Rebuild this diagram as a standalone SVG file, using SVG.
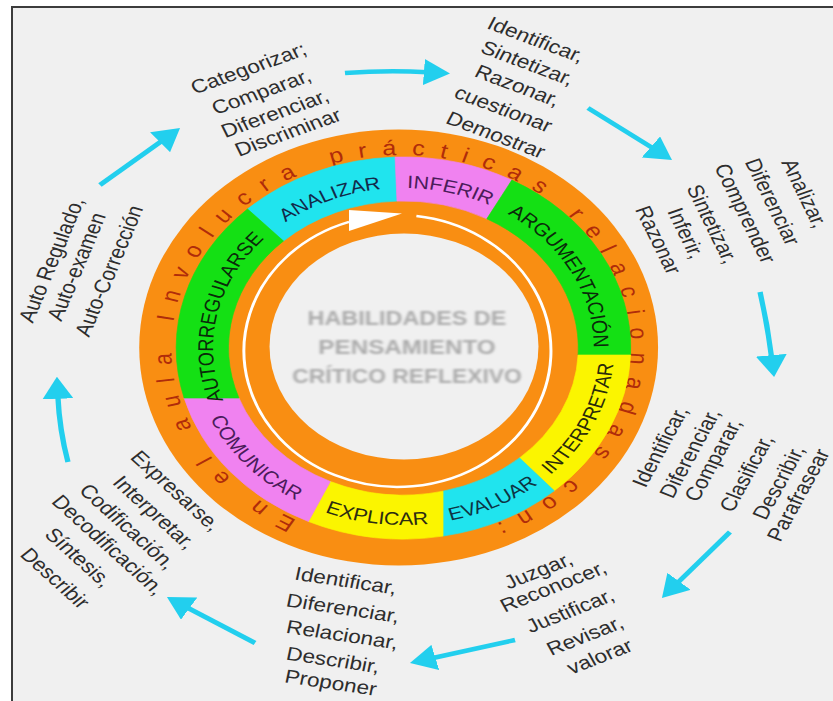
<svg xmlns="http://www.w3.org/2000/svg" width="833" height="701" viewBox="0 0 833 701">
<defs>
<style>
.lbl{font-family:"Liberation Sans",Arial,sans-serif;font-size:18px;text-anchor:middle;}
.out{font-family:"Liberation Sans",Arial,sans-serif;font-size:19px;fill:#2d2d2d;}
.arr{fill:none;stroke:#22cfee;stroke-width:4.5;marker-end:url(#ah);}
.ring{font-family:"Liberation Sans",Arial,sans-serif;font-size:21px;fill:#b02c0a;letter-spacing:12.64px;}
.ctr{font-family:"Liberation Sans",Arial,sans-serif;font-weight:bold;font-size:21px;fill:#ababab;text-anchor:middle;}
.seg{stroke-width:0.6;}
.cy{fill:#20e4ee;stroke:#20e4ee;}
.pk{fill:#f082f0;stroke:#f082f0;}
.gr{fill:#14e014;stroke:#14e014;}
.ye{fill:#fbf500;stroke:#fbf500;}
</style>
<marker id="ah" markerUnits="userSpaceOnUse" viewBox="0 -13 22 26" markerWidth="22" markerHeight="26" refX="3" refY="0" orient="auto">
<path d="M0,-13 L22,0 L0,13 Z" fill="#22cfee"/>
</marker>
<filter id="blur" x="-10%" y="-50%" width="120%" height="200%"><feGaussianBlur stdDeviation="1.3"/></filter>
<path id="ringPath" d="M249.4,520 A193,193 0 1,1 504.1,251.5 A193,193 0 0,1 386.9,534.4"/>
<path id="pANAL" d="M186.4,299.9 A160,160 0 0,1 412.9,206.1"/>
<path id="pINF" d="M245,218.6 A160,160 0 0,1 482.8,277.9"/>
<path id="pARG" d="M370.9,191.2 A160,160 0 0,1 487.9,406.6"/>
<path id="pAUTO" d="M212.9,446.5 A160,160 0 0,1 263.9,206.7"/>
<path id="pINT" d="M383.3,519.4 A177,177 0 0,0 500.1,274.6"/>
<path id="pEVA" d="M267.9,510.1 A177,177 0 0,0 511,389.9"/>
<path id="pEXP" d="M189.7,443.1 A177,177 0 0,0 458.6,478.5"/>
<path id="pCOM" d="M163.9,321.8 A177,177 0 0,0 343.6,524.9"/>
</defs>

<rect x="0" y="0" width="833" height="701" fill="#ffffff"/>
<rect x="12" y="7" width="830" height="700" fill="#f0f0f0" stroke="#3c3c3c" stroke-width="2"/>

<g transform="scale(1.19,1)">

<g id="wheel">
<circle cx="335" cy="347.5" r="218" fill="#f98e12"/>
<circle cx="339.5" cy="346.5" r="113" fill="#f0f0f0"/>
<path d="M349.9,216 A129,136 0 1,1 293.3,221.9" fill="none" stroke="#ffffff" stroke-width="2.5"/>
<polygon points="293.3,210 293.3,231 337.8,213.5" fill="#ffffff"/>
</g>

<g id="ring-text" class="ring">
<text><textPath href="#ringPath" startOffset="0">En</textPath></text>
<text><textPath href="#ringPath" startOffset="69.44">el</textPath></text>
<text><textPath href="#ringPath" startOffset="129.54">aula</textPath></text>
<text><textPath href="#ringPath" startOffset="238.27">Involucra</textPath></text>
<text><textPath href="#ringPath" startOffset="455.7">prácticas</textPath></text>
<text><textPath href="#ringPath" startOffset="671.96">relacionadas</textPath></text>
<text><textPath href="#ringPath" startOffset="960.96">con:</textPath></text>
</g>

<g id="seg-analizar">
<path class="seg cy" d="M208,209 A191,191 0 0,1 332,157.1 L333.6,201.1 A147,147 0 0,0 238.2,241 Z"/>
<text class="lbl" fill="#132a4a"><textPath href="#pANAL" startOffset="50%">ANALIZAR</textPath></text>
</g>
<g id="seg-inferir">
<path class="seg pk" d="M332,157.1 A191,191 0 0,1 430.1,180.1 L409.1,218.8 A147,147 0 0,0 333.6,201.1 Z"/>
<text class="lbl" fill="#4a1c5a"><textPath href="#pINF" startOffset="50%">INFERIR</textPath></text>
</g>
<g id="seg-argumentacion">
<path class="seg gr" d="M430.1,180.1 A191,191 0 0,1 529.9,355 L485.8,355 A147,147 0 0,0 409.1,218.8 Z"/>
<text class="lbl" fill="#0a2a0a"><textPath href="#pARG" startOffset="50%">ARGUMENTACIÓN</textPath></text>
</g>
<g id="seg-interpretar">
<path class="seg ye" d="M529.9,355 A191,191 0 0,1 465.8,490.8 L436.6,457.9 A147,147 0 0,0 485.8,355 Z"/>
<text class="lbl" fill="#2a2a0a"><textPath href="#pINT" startOffset="50%">INTERPRETAR</textPath></text>
</g>
<g id="seg-evaluar">
<path class="seg cy" d="M465.8,490.8 A191,191 0 0,1 372.3,536.1 L372.3,491.2 A147,147 0 0,0 436.6,457.9 Z"/>
<text class="lbl" fill="#0d3444"><textPath href="#pEVA" startOffset="50%">EVALUAR</textPath></text>
</g>
<g id="seg-explicar">
<path class="seg ye" d="M372.3,536.1 A191,191 0 0,1 259.2,521.5 L277.6,481.5 A147,147 0 0,0 372.3,491.2 Z"/>
<text class="lbl" fill="#2b2b12"><textPath href="#pEXP" startOffset="50%">EXPLICAR</textPath></text>
</g>
<g id="seg-comunicar">
<path class="seg pk" d="M259.2,521.5 A191,191 0 0,1 154.7,398 L200.8,398 A147,147 0 0,0 277.6,481.5 Z"/>
<text class="lbl" fill="#4a1c5a"><textPath href="#pCOM" startOffset="50%">COMUNICAR</textPath></text>
</g>
<g id="seg-autorregularse">
<path class="seg gr" d="M154.7,398 A191,191 0 0,1 208,209 L238.2,241 A147,147 0 0,0 200.8,398 Z"/>
<text class="lbl" fill="#0a2a0a"><textPath href="#pAUTO" startOffset="50%">AUTORREGULARSE</textPath></text>
</g>

<g id="center" filter="url(#blur)">
<text class="ctr" x="342" y="325" textLength="167" lengthAdjust="spacingAndGlyphs">HABILIDADES DE</text>
<text class="ctr" x="342" y="354" textLength="149" lengthAdjust="spacingAndGlyphs">PENSAMIENTO</text>
<text class="ctr" x="342" y="383" textLength="193" lengthAdjust="spacingAndGlyphs">CRÍTICO REFLEXIVO</text>
</g>

<g id="t-analizar" class="out" text-anchor="middle">
<text x="208.8" y="68.5" dy=".33em" transform="rotate(-23 208.8 68.5)">Categorizar;</text>
<text x="219.7" y="92" dy=".33em" transform="rotate(-23 219.7 92)">Comparar,</text>
<text x="231.1" y="113.5" dy=".33em" transform="rotate(-23 231.1 113.5)">Diferenciar,</text>
<text x="242" y="132.5" dy=".33em" transform="rotate(-23 242 132.5)">Discriminar</text>
</g>

<g id="t-inferir" class="out" text-anchor="middle">
<text x="450.3" y="39.8" dy=".33em" transform="rotate(24 450.3 39.8)">Identificar,</text>
<text x="443.3" y="63.3" dy=".33em" transform="rotate(24 443.3 63.3)">Sintetizar,</text>
<text x="434.9" y="85.8" dy=".33em" transform="rotate(24 434.9 85.8)">Razonar,</text>
<text x="423" y="109.2" dy=".33em" transform="rotate(24 423 109.2)">cuestionar</text>
<text x="416.6" y="135" dy=".33em" transform="rotate(24 416.6 135)">Demostrar</text>
</g>

<g id="t-argumentacion" class="out" text-anchor="middle">
<text x="676" y="193.4" dy=".33em" transform="rotate(67.5 676 193.4)">Analizar,</text>
<text x="649" y="201.7" dy=".33em" transform="rotate(67.5 649 201.7)">Diferenciar</text>
<text x="626" y="213.4" dy=".33em" transform="rotate(67.5 626 213.4)">Comprender</text>
<text x="598.5" y="224.2" dy=".33em" transform="rotate(67.5 598.5 224.2)">Sintetizar,</text>
<text x="576.3" y="233.3" dy=".33em" transform="rotate(67.5 576.3 233.3)">Inferir,</text>
<text x="553" y="240" dy=".33em" transform="rotate(67.5 553 240)">Razonar</text>
</g>

<g id="t-interpretar" class="out" text-anchor="middle">
<text x="555" y="446.7" dy=".33em" transform="rotate(-65 555 446.7)">Identificar,</text>
<text x="580" y="453.3" dy=".33em" transform="rotate(-65 580 453.3)">Diferenciar,</text>
<text x="599.5" y="460" dy=".33em" transform="rotate(-65 599.5 460)">Comparar,</text>
<text x="627.5" y="473.3" dy=".33em" transform="rotate(-65 627.5 473.3)">Clasificar,</text>
<text x="654.5" y="482.5" dy=".33em" transform="rotate(-65 654.5 482.5)">Describir,</text>
<text x="671" y="495" dy=".33em" transform="rotate(-65 671 495)">Parafrasear</text>
</g>

<g id="t-evaluar" class="out" text-anchor="middle">
<text x="452.4" y="570.8" dy=".33em" transform="rotate(-25 452.4 570.8)">Juzgar,</text>
<text x="465" y="586.7" dy=".33em" transform="rotate(-25 465 586.7)">Reconocer,</text>
<text x="479.1" y="610.8" dy=".33em" transform="rotate(-25 479.1 610.8)">Justificar,</text>
<text x="491.6" y="635.8" dy=".33em" transform="rotate(-25 491.6 635.8)">Revisar,</text>
<text x="504" y="656.7" dy=".33em" transform="rotate(-25 504 656.7)">valorar</text>
</g>

<g id="t-explicar" class="out" text-anchor="start">
<text x="247.9" y="573.3" dy=".33em" transform="rotate(10 247.9 573.3)">Identificar,</text>
<text x="240.9" y="600" dy=".33em" transform="rotate(10 240.9 600)">Diferenciar,</text>
<text x="240.9" y="626.7" dy=".33em" transform="rotate(10 240.9 626.7)">Relacionar,</text>
<text x="240.9" y="653.3" dy=".33em" transform="rotate(10 240.9 653.3)">Describir,</text>
<text x="239.5" y="676" dy=".33em" transform="rotate(10 239.5 676)">Proponer</text>
</g>

<g id="t-comunicar" class="out" text-anchor="middle">
<text x="147.7" y="490.9" dy=".33em" transform="rotate(47 147.7 490.9)">Expresarse,</text>
<text x="129.5" y="512.5" dy=".33em" transform="rotate(47 129.5 512.5)">Interpretar,</text>
<text x="107.2" y="526.7" dy=".33em" transform="rotate(47 107.2 526.7)">Codificación,</text>
<text x="91" y="545" dy=".33em" transform="rotate(47 91 545)">Decodificación,</text>
<text x="65.9" y="557.5" dy=".33em" transform="rotate(47 65.9 557.5)">Síntesis,</text>
<text x="46.2" y="578.3" dy=".33em" transform="rotate(47 46.2 578.3)">Describir</text>
</g>

<g id="t-autorregularse" class="out" text-anchor="middle">
<text x="43.4" y="260" dy=".33em" transform="rotate(-70.5 43.4 260)">Auto Regulado,</text>
<text x="64.5" y="266.7" dy=".33em" transform="rotate(-70.5 64.5 266.7)">Auto-examen</text>
<text x="91.8" y="270.9" dy=".33em" transform="rotate(-70.5 91.8 270.9)">Auto-Corrección</text>
</g>

<g id="connectors">
<path class="arr" d="M84,185 L136.8,140.3"/>
<path class="arr" d="M289.9,73 Q325,70 359.2,72.2"/>
<path class="arr" d="M494.1,108 L549.4,148.7"/>
<path class="arr" d="M638.7,292 Q645,325 648.5,358.2"/>
<path class="arr" d="M613.4,532 L568.7,583.6"/>
<path class="arr" d="M432.8,640 L362.9,658.2"/>
<path class="arr" d="M214.3,643 L156.4,607"/>
<path class="arr" d="M57.1,462 Q50,430 48.6,395.8"/>
</g>

</g>
</svg>
